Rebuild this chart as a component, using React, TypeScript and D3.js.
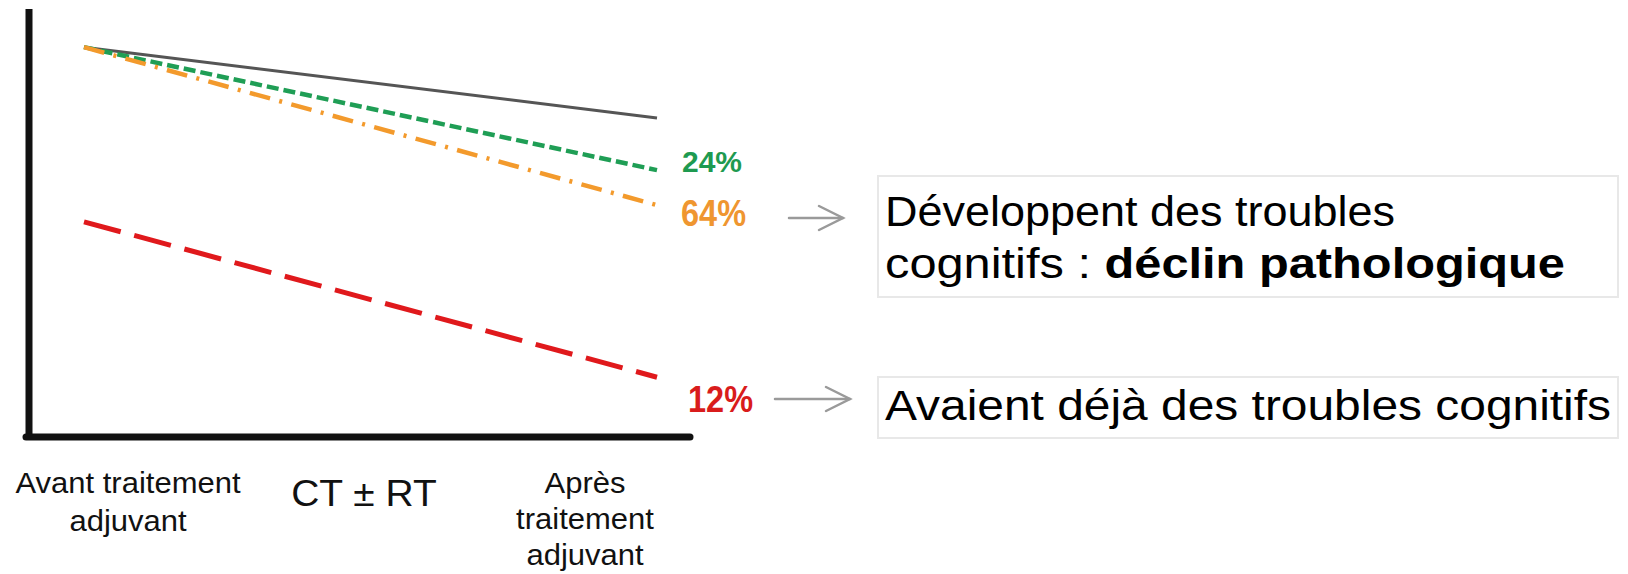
import React from "react";
import * as d3 from "d3";

// ---- data ----
const phases = [0, 1]; // 0 = avant traitement adjuvant, 1 = après traitement adjuvant
const normalValues = [91.3, 74.7];
const declineValues = [91.3, 62.5];
const pathologicalValues = [91.3, 54.3];
const preexistingValues = [50.4, 14];
const percentLabels = ["24%", "64%", "12%"];
const xLabelLeft = ["Avant traitement", "adjuvant"];
const xLabelMiddle = "CT ± RT";
const xLabelRight = ["Après", "traitement", "adjuvant"];
const box1Line1 = "Développent des troubles";
const box1Line2Regular = "cognitifs : ";
const box1Line2Bold = "déclin pathologique";
const box2Text = "Avaient déjà des troubles cognitifs";

const W = 1628;
const H = 574;
const FONT = "'Liberation Sans', Arial, sans-serif";

export default function App() {
  const x = d3.scaleLinear().domain([0, 1]).range([84, 657]);
  const y = d3.scaleLinear().domain([0, 100]).range([437, 10]);
  const line = d3
    .line<number>()
    .x((_, i) => x(phases[i]))
    .y((d) => y(d));

  const series = [
    { values: normalValues, color: "#555555", width: 3, dash: undefined as string | undefined },
    { values: declineValues, color: "#1f9e55", width: 4.5, dash: "12 5" },
    { values: pathologicalValues, color: "#f39a2c", width: 4.5, dash: "21 9.5 3 9.5" },
    { values: preexistingValues, color: "#e0191c", width: 5, dash: "38 14" },
  ];

  const arrow = (x1: number, x2: number, yy: number) => (
    <g stroke="#9a9a9a" strokeWidth={2.5} fill="none" strokeLinecap="round">
      <line x1={x1} y1={yy} x2={x2} y2={yy} />
      <polyline points={`${x2 - 24},${yy - 12} ${x2},${yy} ${x2 - 24},${yy + 12}`} />
    </g>
  );

  return (
    <svg width={W} height={H} style={{ display: "block", position: "absolute", left: 0, top: 0, background: "#fff" }} fontFamily={FONT}>
      <rect width={W} height={H} fill="#fff" />
      {/* axes */}
      <line x1={29} y1={9} x2={29} y2={440} stroke="#111" strokeWidth={7} />
      <line x1={26} y1={437} x2={690} y2={437} stroke="#111" strokeWidth={7} strokeLinecap="round" />

      {/* series */}
      {series.map((s, i) => (
        <path key={i} d={line(s.values) || ""} fill="none" stroke={s.color} strokeWidth={s.width} strokeDasharray={s.dash} />
      ))}

      {/* percent labels */}
      <text x={682} y={172} fontSize={30} fontWeight="bold" fill="#1e9a50">{percentLabels[0]}</text>
      <g transform="translate(681,226) scale(1,1.15)">
        <text x={0} y={0} fontSize={32.5} fontWeight="bold" fill="#ef9630">{percentLabels[1]}</text>
      </g>
      <g transform="translate(688,412) scale(1,1.15)">
        <text x={0} y={0} fontSize={32.5} fontWeight="bold" fill="#d91c1c">{percentLabels[2]}</text>
      </g>

      {/* arrows */}
      {arrow(789, 843, 218)}
      {arrow(775, 850, 399)}

      {/* boxes */}
      <rect x={878} y={176} width={740} height={121} fill="#fff" stroke="#e8e8e8" strokeWidth={2} />
      <rect x={878} y={377} width={740} height={61} fill="#fff" stroke="#e8e8e8" strokeWidth={2} />
      <g transform="translate(885,226) scale(1,0.885)">
        <text x={0} y={0} fontSize={47.5} fill="#000" textLength={510} lengthAdjust="spacingAndGlyphs">{box1Line1}</text>
      </g>
      <g transform="translate(885,278) scale(1,0.885)">
        <text x={0} y={0} fontSize={47.5} fill="#000" textLength={680} lengthAdjust="spacingAndGlyphs">
          <tspan>{box1Line2Regular}</tspan>
          <tspan fontWeight="bold">{box1Line2Bold}</tspan>
        </text>
      </g>
      <g transform="translate(885,420) scale(1,0.885)">
        <text x={0} y={0} fontSize={47.5} fill="#000" textLength={726} lengthAdjust="spacingAndGlyphs">{box2Text}</text>
      </g>

      {/* x labels */}
      <g fontSize={31} fill="#111" textAnchor="middle">
        {xLabelLeft.map((t, i) => (
          <g key={t} transform={`translate(128,${493 + i * 38}) scale(1,0.95)`}>
            <text x={0} y={0}>{t}</text>
          </g>
        ))}
        <g transform="translate(364,506) scale(1,0.97)">
          <text x={0} y={0} fontSize={39}>{xLabelMiddle}</text>
        </g>
        {xLabelRight.map((t, i) => (
          <g key={t + i} transform={`translate(585,${493 + i * 36}) scale(1,0.95)`}>
            <text x={0} y={0}>{t}</text>
          </g>
        ))}
      </g>
    </svg>
  );
}
